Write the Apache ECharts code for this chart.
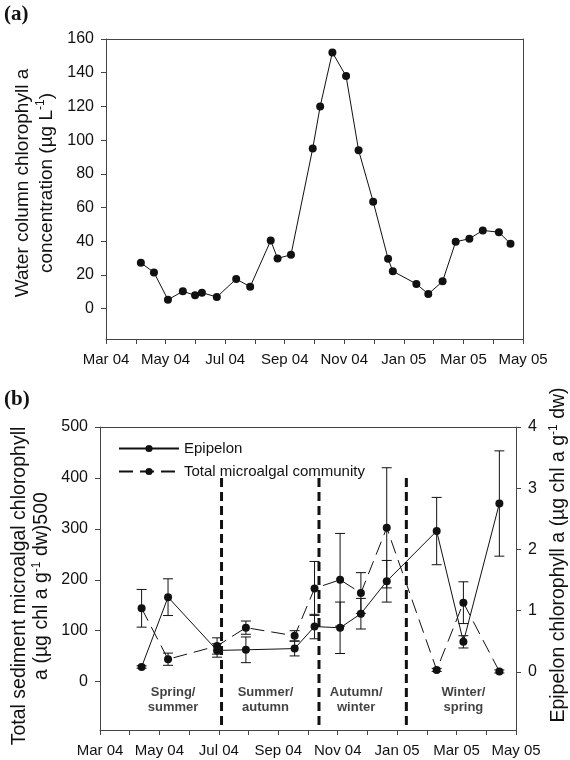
<!DOCTYPE html>
<html>
<head>
<meta charset="utf-8">
<script src="https://cdn.jsdelivr.net/npm/echarts@6/dist/echarts.min.js"></script>
<style>
  html, body { margin: 0; padding: 0; background: #fff; }
  #chart { width: 570px; height: 760px; }
</style>
</head>
<body>
<div id="chart"></div>
<script>
// Months counted from 1 March 2004 (0 = Mar 04, 14 = May 05)
const monthLabels = ['Mar 04', 'May 04', 'Jul 04', 'Sep 04', 'Nov 04', 'Jan 05', 'Mar 05', 'May 05'];

// (a) water column chlorophyll a (µg L-1)
const waterMonths = [1.17, 1.61, 2.08, 2.58, 2.99, 3.22, 3.72, 4.37, 4.84, 5.53, 5.76, 6.21, 6.94, 7.19,
                     7.60, 8.06, 8.48, 8.97, 9.47, 9.63, 10.42, 10.82, 11.30, 11.74, 12.20, 12.65, 13.19, 13.58];
const waterChl = [27.2, 21.5, 5.3, 10.3, 7.9, 9.5, 6.9, 17.6, 13.0, 40.4, 29.8, 32.0, 95, 120,
                  152, 138, 94, 63.5, 29.6, 22.2, 14.7, 8.7, 16.2, 39.7, 41.5, 46.4, 45.4, 38.5];
const waterTicks = [0, 20, 40, 60, 80, 100, 120, 140, 160];

// (b) sediment samples
const sampleMonths = [1.40, 2.29, 3.94, 4.91, 6.55, 7.22, 8.08, 8.78, 9.65, 11.33, 12.23, 13.44];
const epipelon = [0.08, 1.22, 0.35, 0.36, 0.38, 0.74, 0.72, 0.95, 1.48, 2.30, 0.49, 2.75];
const epipelonErr = [0.02, 0.30, 0.11, 0.21, 0.12, 0.20, 0.42, 0.25, 0.34, 0.55, 0.10, 0.86];
const totalMicroalgal = [144, 44, 70, 106, 90, 183, 200, 174, 302, 23, 155, 20];
const totalErr = [37, 12, 16, 13, 10, 53, 91, 40, 118, 3, 41, 3];
const totalTicks = [0, 100, 200, 300, 400, 500];
const epiTicks = [0, 1, 2, 3, 4];

// season boundaries and labels
const seasonBoundaries = [4.09, 7.37, 10.31];
const boundaryTop = 400;
const seasonLabels = ['Spring/\nsummer', 'Summer/\nautumn', 'Autumn/\nwinter', 'Winter/\nspring'];
const seasonLabelMonths = [2.46, 5.57, 8.62, 12.23];
const seasonLabelLevel = -36;

const FONT = '"Liberation Sans", Arial, sans-serif';
const INK = '#111';
const AXIS = '#444';

const chart = echarts.init(document.getElementById('chart'), null, { renderer: 'canvas' });

function monthAxis(gridIndex, showLabels) {
  return {
    gridIndex, type: 'value', min: 0, max: 14, interval: 1,
    position: 'bottom',
    axisLine: { show: true, onZero: false, lineStyle: { color: AXIS, width: 1 } },
    axisTick: { show: true, length: 5, lineStyle: { color: AXIS } },
    axisLabel: {
      show: showLabels, margin: 13, fontSize: 15, color: INK, fontFamily: FONT,
      formatter: v => (v % 2 === 0 ? monthLabels[v / 2] : '')
    },
    splitLine: { show: false }
  };
}
function frameX(gridIndex) {
  return {
    gridIndex, type: 'value', min: 0, max: 14, position: 'top',
    axisLine: { show: true, onZero: false, lineStyle: { color: AXIS } },
    axisTick: { show: false }, axisLabel: { show: false }, splitLine: { show: false }
  };
}
function valueAxis(gridIndex, min, max, ticks, position, labelMargin) {
  return {
    gridIndex, type: 'value', min, max, position,
    axisLine: { show: true, onZero: false, lineStyle: { color: AXIS } },
    axisTick: { show: true, length: 5, customValues: ticks, lineStyle: { color: AXIS } },
    axisLabel: { show: true, customValues: ticks, margin: labelMargin, fontSize: 16, color: INK, fontFamily: FONT },
    splitLine: { show: false }
  };
}

function errorBars(xAxisIndex, yAxisIndex, xs, vals, errs) {
  return {
    type: 'custom', xAxisIndex, yAxisIndex, silent: true, z: 2,
    encode: { x: 0, y: [1, 2] },
    data: xs.map((m, i) => [m, vals[i] - errs[i], vals[i] + errs[i]]),
    renderItem: (params, api) => {
      const lo = api.coord([api.value(0), api.value(1)]);
      const hi = api.coord([api.value(0), api.value(2)]);
      const w = 5;
      const st = { stroke: INK, lineWidth: 1 };
      return {
        type: 'group',
        children: [
          { type: 'line', shape: { x1: lo[0], y1: lo[1], x2: hi[0], y2: hi[1] }, style: st },
          { type: 'line', shape: { x1: lo[0] - w, y1: lo[1], x2: lo[0] + w, y2: lo[1] }, style: st },
          { type: 'line', shape: { x1: hi[0] - w, y1: hi[1], x2: hi[0] + w, y2: hi[1] }, style: st }
        ]
      };
    }
  };
}

const supStyle = (size) => ({ fontSize: size, fontFamily: FONT, fill: INK, verticalAlign: 'top', lineHeight: 10 });

const option = {
  animation: false,
  backgroundColor: '#fff',
  textStyle: { fontFamily: FONT, color: INK },
  grid: [
    { left: 106, top: 39, width: 417, height: 300 },
    { left: 100, top: 427, width: 416, height: 303 }
  ],
  xAxis: [
    monthAxis(0, true), frameX(0),
    monthAxis(1, true), frameX(1)
  ],
  yAxis: [
    valueAxis(0, -18, 160, waterTicks, 'left', 12),
    { gridIndex: 0, type: 'value', min: -18, max: 160, position: 'right',
      axisLine: { show: true, onZero: false, lineStyle: { color: AXIS } },
      axisTick: { show: false }, axisLabel: { show: false }, splitLine: { show: false } },
    valueAxis(1, -95, 500, totalTicks, 'left', 12),
    valueAxis(1, -0.95, 4, epiTicks, 'right', 12)
  ],
  legend: {
    orient: 'vertical', left: 113, top: 436, itemWidth: 60, itemHeight: 9, itemGap: 8,
    textStyle: { fontSize: 15, color: INK, fontFamily: FONT },
    data: ['Epipelon', 'Total microalgal community']
  },
  series: [
    {
      name: 'Water column', type: 'line', xAxisIndex: 0, yAxisIndex: 0,
      data: waterMonths.map((m, i) => [m, waterChl[i]]),
      symbol: 'circle', symbolSize: 8, itemStyle: { color: INK },
      lineStyle: { color: INK, width: 1 }, z: 3
    },
    {
      name: 'Season boundary', type: 'custom', xAxisIndex: 2, yAxisIndex: 2, silent: true, z: 1,
      encode: { x: 0, y: 1 },
      data: seasonBoundaries.map(m => [m, boundaryTop]),
      renderItem: (params, api) => {
        const top = api.coord([api.value(0), api.value(1)]);
        const bottom = api.coord([api.value(0), -95]);
        return {
          type: 'line',
          shape: { x1: top[0], y1: top[1], x2: bottom[0], y2: bottom[1] },
          style: { stroke: INK, lineWidth: 3, lineDash: [9, 5] }
        };
      }
    },
    {
      name: 'Season', type: 'scatter', xAxisIndex: 2, yAxisIndex: 2, silent: true,
      symbolSize: 0,
      data: seasonLabelMonths.map((m, i) => [m, seasonLabelLevel, seasonLabels[i]]),
      label: {
        show: true, position: 'inside', formatter: p => p.data[2],
        fontSize: 13, fontWeight: 'bold', lineHeight: 15, color: INK, fontFamily: FONT, align: 'center'
      }
    },
    errorBars(2, 2, sampleMonths, totalMicroalgal, totalErr),
    errorBars(2, 3, sampleMonths, epipelon, epipelonErr),
    {
      name: 'Total microalgal community', type: 'line', xAxisIndex: 2, yAxisIndex: 2,
      data: sampleMonths.map((m, i) => [m, totalMicroalgal[i]]),
      symbol: 'circle', symbolSize: 8, itemStyle: { color: INK },
      lineStyle: { color: INK, width: 1, type: [14, 7] }, z: 3
    },
    {
      name: 'Epipelon', type: 'line', xAxisIndex: 2, yAxisIndex: 3,
      data: sampleMonths.map((m, i) => [m, epipelon[i]]),
      symbol: 'circle', symbolSize: 8, itemStyle: { color: INK },
      lineStyle: { color: INK, width: 1 }, z: 3
    }
  ],
  graphic: [
    { type: 'text', x: 4, y: 4, style: { text: '(a)', font: 'bold 21px "Liberation Serif", serif', fill: INK } },
    { type: 'text', x: 4, y: 389, style: { text: '(b)', font: 'bold 21px "Liberation Serif", serif', fill: INK } },
    {
      type: 'text', x: 35, y: 183, rotation: Math.PI / 2,
      style: {
        text: 'Water column chlorophyll a\nconcentration (µg L{sup|-1})',
        fontSize: 19, fontFamily: FONT, fill: INK, lineHeight: 24,
        align: 'center', verticalAlign: 'middle',
        rich: { sup: supStyle(12) }
      }
    },
    {
      type: 'text', x: 31, y: 586, rotation: Math.PI / 2,
      style: {
        text: 'Total sediment microalgal chlorophyll\na (µg chl a g{sup|-1} dw)500',
        fontSize: 19.5, fontFamily: FONT, fill: INK, lineHeight: 22,
        align: 'center', verticalAlign: 'middle',
        rich: { sup: supStyle(12) }
      }
    },
    {
      type: 'text', x: 559, y: 555, rotation: Math.PI / 2,
      style: {
        text: 'Epipelon chlorophyll a (µg chl a g{sup|-1} dw)',
        fontSize: 19.5, fontFamily: FONT, fill: INK, lineHeight: 22,
        align: 'center', verticalAlign: 'middle',
        rich: { sup: supStyle(12) }
      }
    }
  ]
};

chart.setOption(option);
</script>
</body>
</html>
